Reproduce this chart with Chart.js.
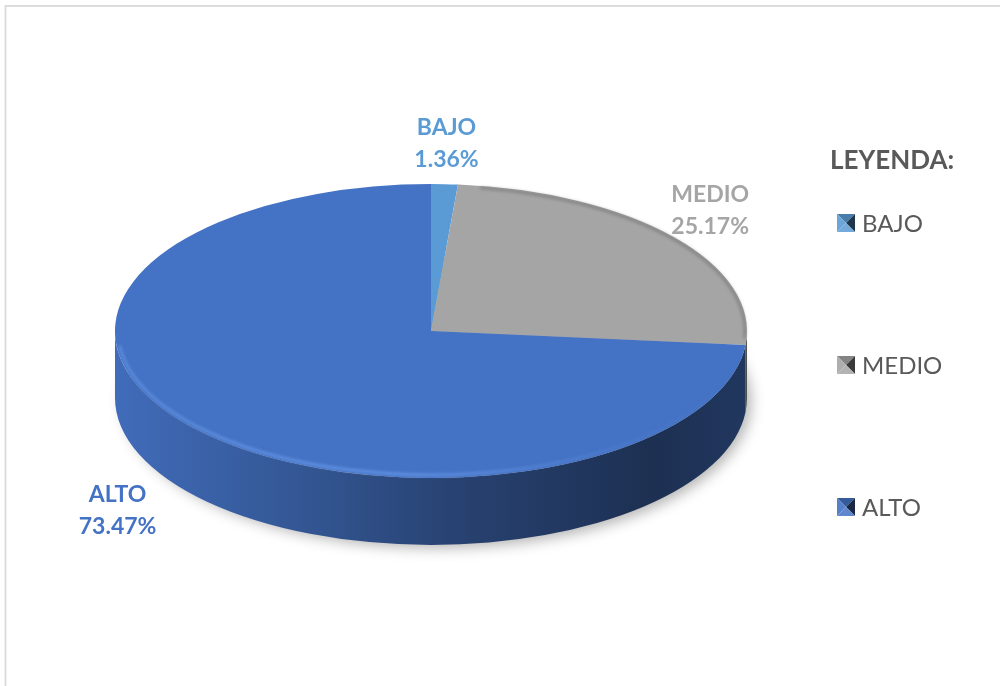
<!DOCTYPE html>
<html>
<head>
<meta charset="utf-8">
<script src="https://cdn.jsdelivr.net/npm/chart.js@4.4.1/dist/chart.umd.min.js"></script>
<style>
  html, body { margin: 0; padding: 0; background: #fff; }
  #wrap { width: 1000px; height: 686px; }
</style>
</head>
<body>
<div id="wrap"><canvas id="pie" width="1000" height="686"></canvas></div>
<script>
const categorias = ['BAJO', 'MEDIO', 'ALTO'];
const porcentajes = [1.36, 25.17, 73.47];
const colores = ['#5B9BD5', '#A5A5A5', '#4472C4'];
const tituloLeyenda = 'LEYENDA:';

// tapa del pastel en pantalla (elipse) y grosor del canto
const CENTRO_Y = 331;
const ESCALA_Y = 0.465;
const GROSOR = 67;
const TEXTO = '#595959';

function tono(hex, f) {
    let n = parseInt(hex.slice(1), 16);
    let r = (n >> 16) & 255, g = (n >> 8) & 255, b = n & 255;
    const c = v => Math.max(0, Math.min(255, Math.round(f <= 1 ? v * f : v + (255 - v) * (f - 1))));
    return 'rgb(' + c(r) + ',' + c(g) + ',' + c(b) + ')';
}

const pie3d = {
    id: 'pie3d',
    beforeDraw(chart) {
        const ctx = chart.ctx;
        ctx.save();
        ctx.strokeStyle = '#d9d9d9';
        ctx.lineWidth = 1.8;
        ctx.strokeRect(5.5, 6, 1200, 1000);
        ctx.restore();
    },
    beforeDatasetsDraw(chart) {
        const ctx = chart.ctx;
        const arcs = chart.getDatasetMeta(0).data;
        const cx = arcs[0].x, cy0 = arcs[0].y, R = arcs[0].outerRadius;
        const ry = R * ESCALA_Y;

        // sombra bajo el pastel
        ctx.save();
        ctx.filter = 'blur(7px)';
        ctx.fillStyle = 'rgba(0,0,0,0.30)';
        ctx.beginPath();
        ctx.ellipse(cx + 6, CENTRO_Y + GROSOR + 3, R - 2, ry, 0, 0, Math.PI * 2);
        ctx.fill();
        ctx.restore();

        // canto visible (mitad delantera)
        arcs.forEach((arc, i) => {
            const s = Math.max(arc.startAngle, 0);
            const e = Math.min(arc.endAngle, Math.PI);
            if (e <= s) return;
            const col = colores[i];
            const grad = ctx.createLinearGradient(cx - R, 0, cx + R, 0);
            grad.addColorStop(0, tono(col, 0.95));
            grad.addColorStop(0.3, tono(col, 0.75));
            grad.addColorStop(0.55, tono(col, 0.57));
            grad.addColorStop(0.85, tono(col, 0.42));
            grad.addColorStop(1, tono(col, 0.48));
            ctx.save();
            ctx.fillStyle = grad;
            ctx.beginPath();
            ctx.ellipse(cx, CENTRO_Y, R, ry, 0, s, e);
            ctx.ellipse(cx, CENTRO_Y + GROSOR, R, ry, 0, e, s, true);
            ctx.closePath();
            ctx.fill();
            ctx.restore();
        });

        // la tapa se dibuja aplastada en vertical
        ctx.save();
        ctx.translate(cx, CENTRO_Y);
        ctx.scale(1, ESCALA_Y);
        ctx.translate(-cx, -cy0);
    },
    afterDatasetsDraw(chart) {
        const ctx = chart.ctx;
        ctx.restore();
        const arcs = chart.getDatasetMeta(0).data;
        const cx = arcs[0].x, R = arcs[0].outerRadius;
        const ry = R * ESCALA_Y;

        // sombreado del bisel en el borde trasero derecho
        ctx.save();
        ctx.filter = 'blur(1.5px)';
        ctx.strokeStyle = 'rgba(40,40,40,0.25)';
        ctx.lineWidth = 3;
        ctx.beginPath();
        ctx.ellipse(cx, CENTRO_Y, R - 2, ry - 2, 0, -Math.PI * 0.45, 0.05);
        ctx.stroke();
        ctx.restore();

        // brillo del bisel en el borde delantero
        ctx.save();
        ctx.filter = 'blur(1.5px)';
        const brillo = ctx.createLinearGradient(cx - R, 0, cx + R, 0);
        brillo.addColorStop(0, 'rgba(110,160,240,0.55)');
        brillo.addColorStop(0.45, 'rgba(110,160,240,0.7)');
        brillo.addColorStop(0.8, 'rgba(110,160,240,0.15)');
        brillo.addColorStop(1, 'rgba(110,160,240,0)');
        ctx.strokeStyle = brillo;
        ctx.lineWidth = 3;
        ctx.beginPath();
        ctx.ellipse(cx, CENTRO_Y, R - 3, ry - 3, 0, 0.15, Math.PI - 0.1);
        ctx.stroke();
        ctx.restore();

        // etiquetas de datos
        ctx.save();
        ctx.font = 'bold 23px Lato';
        ctx.textAlign = 'center';
        ctx.textBaseline = 'middle';
        arcs.forEach((arc, i) => {
            const t = (arc.startAngle + arc.endAngle) / 2;
            const c = Math.cos(t), s = Math.sin(t);
            const x = cx + c * R * 1.15 + (c < 0 ? c * 60 : 0);
            const y = CENTRO_Y + s * ry * 1.28 + (s > 0 ? GROSOR * 0.8 : 0);
            ctx.fillStyle = colores[i];
            ctx.fillText(categorias[i], x, y - 16);
            ctx.fillText(porcentajes[i].toFixed(2) + '%', x, y + 16);
        });
        ctx.restore();
    },
    afterDraw(chart) {
        const ctx = chart.ctx;
        ctx.save();
        ctx.fillStyle = TEXTO;
        ctx.textBaseline = 'middle';
        ctx.font = 'bold 26px Lato';
        ctx.fillText(tituloLeyenda, 830, 161);
        ctx.font = '24px Lato';
        categorias.forEach((cat, i) => {
            const yc = 223 + i * 142;
            const x0 = 837, y0 = yc - 9, m = 18;
            const col = colores[i];
            const tri = (pts, fill) => {
                ctx.fillStyle = fill;
                ctx.beginPath();
                ctx.moveTo(pts[0], pts[1]);
                ctx.lineTo(pts[2], pts[3]);
                ctx.lineTo(x0 + m / 2, y0 + m / 2);
                ctx.closePath();
                ctx.fill();
            };
            tri([x0, y0, x0 + m, y0], tono(col, 0.8));
            tri([x0, y0, x0, y0 + m], tono(col, 1.1));
            tri([x0 + m, y0, x0 + m, y0 + m], tono(col, 0.35));
            tri([x0, y0 + m, x0 + m, y0 + m], tono(col, 1.15));
            ctx.fillStyle = TEXTO;
            ctx.fillText(cat, 862, yc + 1);
        });
        ctx.restore();
    }
};

new Chart(document.getElementById('pie'), {
    type: 'pie',
    data: {
        labels: categorias,
        datasets: [{
            data: porcentajes,
            backgroundColor: colores,
            borderWidth: 0,
            clip: false
        }]
    },
    options: {
        responsive: false,
        animation: false,
        events: [],
        radius: 316,
        layout: { padding: { left: 0, right: 138, top: 0, bottom: 0 } },
        plugins: {
            legend: { display: false },
            tooltip: { enabled: false }
        }
    },
    plugins: [pie3d]
});
</script>
</body>
</html>
